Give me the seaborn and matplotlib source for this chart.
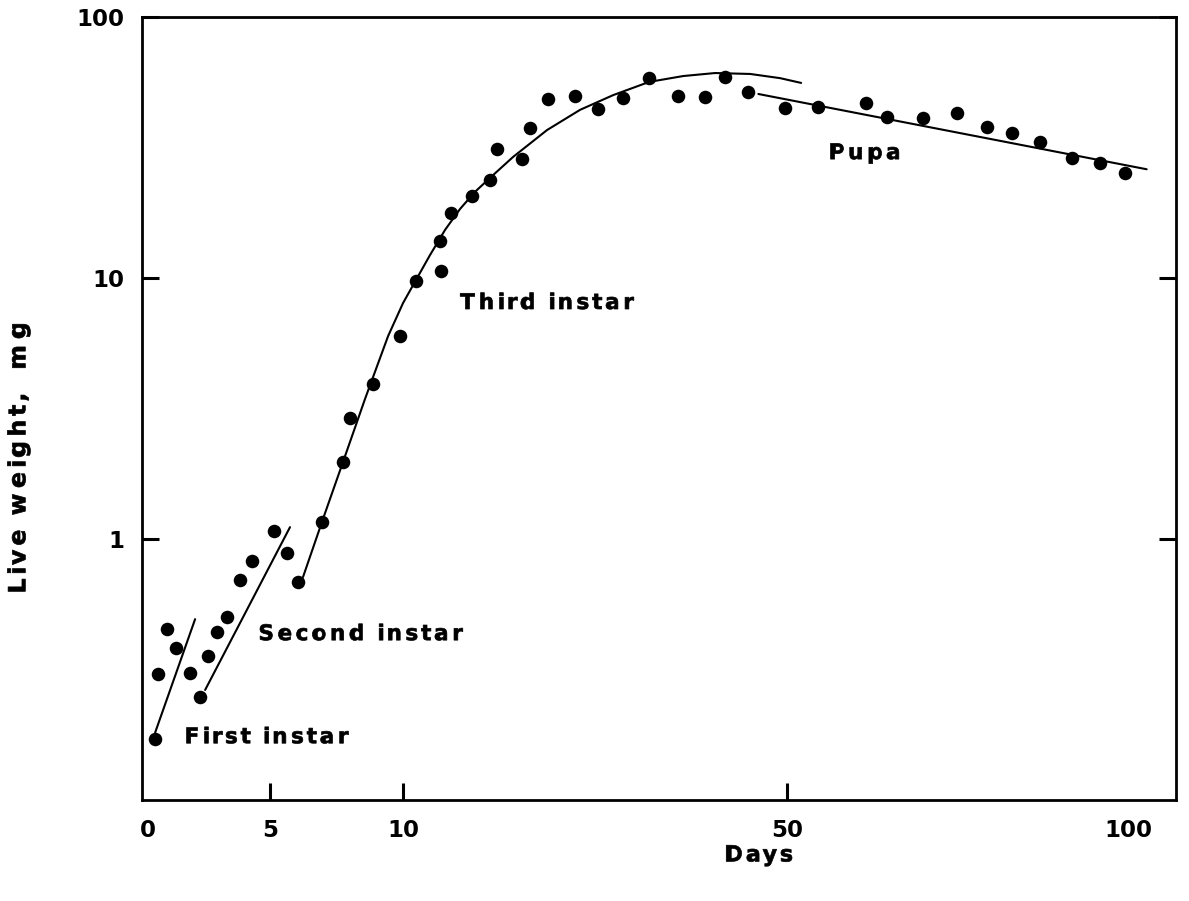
import numpy as np
import pandas as pd
import matplotlib
matplotlib.use("Agg")
import matplotlib.pyplot as plt
import seaborn as sns
from matplotlib.path import Path
from matplotlib.patheffects import AbstractPathEffect

# Observed live weight (mg) against age (days)
days = [0.29, 0.42, 0.77, 1.14, 1.72, 2.14, 2.47, 2.82, 3.25, 3.77, 4.25,
        5.16, 5.65, 6.06, 6.97, 7.73, 8.02, 8.88, 9.89, 11.39, 13.96, 13.82,
        14.95, 17.19, 19.06, 19.82, 22.43, 23.23, 25.14, 27.92, 30.31, 32.95,
        35.66, 38.61, 41.49, 43.57, 45.94, 49.79, 54.50, 61.58, 64.62, 69.90,
        74.88, 79.28, 82.95, 87.10, 91.74, 95.89, 99.56]
weight = [0.172, 0.304, 0.452, 0.381, 0.306, 0.249, 0.357, 0.440, 0.504, 0.697,
          0.826, 1.07, 0.881, 0.686, 1.165, 1.97, 2.90, 3.93, 6.0, 9.78, 10.6,
          13.9, 17.7, 20.6, 23.7, 31.1, 28.6, 37.6, 48.4, 49.8, 44.3, 48.8, 58.2,
          49.8, 49.5, 59.1, 51.6, 45.0, 45.3, 46.7, 41.5, 41.1, 43.0, 38.0, 35.8,
          33.1, 28.7, 27.7, 25.2]

# Fitted growth lines for each stage
first_days = [0.29, 1.93]
first_wt = [0.181, 0.493]
second_days = [2.34, 5.75]
second_wt = [0.264, 1.11]
third_days = [6.24, 6.99, 7.74, 8.57, 9.44, 10.00, 11.46, 12.81, 14.38, 15.94,
              17.50, 19.06, 21.46, 25.00, 28.44, 31.88, 35.63, 39.17, 42.50,
              46.15, 49.27, 52.05]
third_wt = [0.715, 1.193, 1.97, 3.44, 6.00, 8.02, 10.0, 12.25, 15.3, 18.4,
            21.4, 24.2, 29.1, 36.9, 44.1, 50.2, 56.4, 59.4, 61.0, 60.5, 58.3,
            55.9]
pupa_days = [47.0, 102.7]
pupa_wt = [50.7, 26.1]

stage_names = ["First instar", "Second instar", "Third instar", "Pupa"]
stage_days = [1.48, 4.51, 15.94, 56.0]
stage_wt = [0.174, 0.432, 8.02, 30.1]

x_ticks = [0, 5, 10, 50, 100]
y_ticks = [1, 10, 100]
y_ticklabels = ["1", "10", "100"]

# Piecewise-linear time axis: days 0-10 spread out, 10-50 and 50-100 compressed
AXIS_DAYS = np.array([-10.0, 0.0, 5.0, 10.0, 50.0, 100.0, 200.0])
AXIS_POS = np.array([-244.0, 0.0, 122.0, 255.0, 639.0, 980.0, 1662.0])


def day_forward(x):
    return np.interp(np.asarray(x, dtype=float), AXIS_DAYS, AXIS_POS)


def day_inverse(p):
    return np.interp(np.asarray(p, dtype=float), AXIS_POS, AXIS_DAYS)


class Tracking(AbstractPathEffect):
    """Widen the letter spacing of a text by moving each glyph outline
    away from the text origin, with a thin outline to keep the letters heavy."""

    def __init__(self, factor, stroke=0.5):
        super().__init__()
        self.factor = factor
        self.stroke = stroke

    def draw_path(self, renderer, gc, tpath, affine, rgbFace=None):
        verts = np.array(tpath.vertices, dtype=float)
        codes = tpath.codes
        if codes is not None and len(verts):
            starts = list(np.flatnonzero(codes == Path.MOVETO)) + [len(verts)]
            for a, b in zip(starts[:-1], starts[1:]):
                keep = codes[a:b] != Path.CLOSEPOLY
                if keep.any():
                    x0 = verts[a:b][keep, 0].min()
                    verts[a:b, 0] += (self.factor - 1.0) * x0
        gc0 = renderer.new_gc()
        gc0.copy_properties(gc)
        gc0.set_linewidth(self.stroke)
        gc0.set_foreground(rgbFace if rgbFace is not None else "black")
        renderer.draw_path(gc0, Path(verts, codes), affine, rgbFace)
        gc0.restore()


sns.set_theme(style="white")
plt.rcParams["font.family"] = ["DejaVu Sans"]
plt.rcParams["font.weight"] = "bold"

fig = plt.figure(figsize=(11.89, 9.01), dpi=100)
ax = fig.add_axes([142 / 1189, 1 - 800 / 901, (1176 - 142) / 1189, (800 - 17) / 901])

ax.set_xscale("function", functions=(day_forward, day_inverse))
ax.set_yscale("log")

obs = pd.DataFrame({"day": days, "weight": weight})
sns.scatterplot(data=obs, x="day", y="weight", color="black", s=95,
                edgecolor="black", linewidth=0, ax=ax, zorder=3)

for xs, ys in [(first_days, first_wt), (second_days, second_wt),
               (third_days, third_wt), (pupa_days, pupa_wt)]:
    seg = pd.DataFrame({"day": xs, "weight": ys})
    sns.lineplot(data=seg, x="day", y="weight", color="black", linewidth=1.5,
                 sort=False, estimator=None, ax=ax)

for name, dx, wy in zip(stage_names, stage_days, stage_wt):
    ax.text(dx, wy, name, ha="left", va="center", fontsize=15.5,
            fontweight="bold", color="black", path_effects=[Tracking(1.24)])

ax.set_xlim(-0.246, 107.0)
ax.set_ylim(0.1, 100)

ax.set_xticks(x_ticks)
ax.set_xticklabels([str(t) for t in x_ticks])
ax.set_yticks(y_ticks)
ax.set_yticklabels(y_ticklabels)
ax.yaxis.set_minor_locator(matplotlib.ticker.NullLocator())

ax.tick_params(axis="x", direction="in", length=12, width=2.2, pad=14,
               labelsize=16.5, bottom=True, top=False, colors="black")
ax.tick_params(axis="y", direction="in", length=12, width=2.2, pad=13,
               labelsize=16.5, left=True, right=True, colors="black")
for lbl in ax.get_xticklabels() + ax.get_yticklabels():
    lbl.set_fontweight("bold")

# no tick marks at the axis ends
xt = ax.xaxis.get_major_ticks()
xt[0].tick1line.set_visible(False)
xt[-1].tick1line.set_visible(False)

for sp in ax.spines.values():
    sp.set_visible(True)
    sp.set_color("black")
    sp.set_linewidth(2.0)

ax.set_xlabel("Days", fontsize=16, fontweight="bold", color="black",
              path_effects=[Tracking(1.18)])
ax.set_ylabel("Live weight,  mg", fontsize=17, fontweight="bold", color="black",
              path_effects=[Tracking(1.25)])
ax.xaxis.set_label_coords(0.592, -0.058)
ax.yaxis.set_label_coords(-0.108, 0.404)
ax.grid(False)

fig.savefig("out.png", dpi=100, facecolor="white")
